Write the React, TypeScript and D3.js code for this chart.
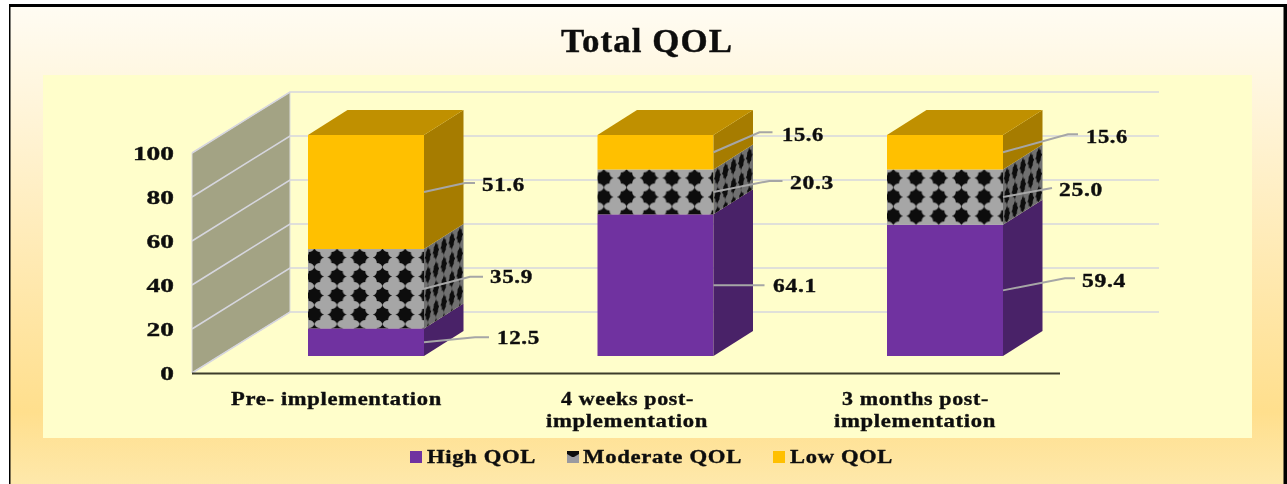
import React from "react";
import * as d3 from "d3";

const categories = ["Pre- implementation", "4 weeks post-\nimplementation", "3 months post-\nimplementation"];
const highQol = [12.5, 64.1, 59.4];
const moderateQol = [35.9, 20.3, 25.0];
const lowQol = [51.6, 15.6, 15.6];
const seriesNames = ["High QOL", "Moderate QOL", "Low QOL"];
const yTicks = [0, 20, 40, 60, 80, 100];

// layout only
const W = 1287, H = 484;
const barW = 116, barDX = 39.5, barDY = -25;
const wallDX = 98, wallDY = -61;
const barX = d3.scalePoint<number>().domain([0, 1, 2]).range([308, 887]);
const barY = d3.scaleLinear().domain([0, 100]).range([356, 135]);
const axisY = d3.scaleLinear().domain([0, 100]).range([373, 153]);
const font = "'Liberation Serif','Times New Roman',serif";

// leader knee / end offsets from the anchor on the bar's side, text box [left, right, centreY]
const leaders = [
  [[[41, -9], [51, -9], [482, 525, 185]], [[46, -12], [59, -12], [490, 533, 277]], [[51, -5], [65, -5], [497, 540, 338]]],
  [[[46, -20], [59, -20], [782, 824, 135]], [[56, -11], [69, -11], [790, 834, 183]], [[41, 0], [51, 0], [773, 817, 286]]],
  [[[65, -18], [75, -18], [1086, 1128, 137]], [[49, -9], [49, -9], [1059, 1103, 190]], [[62, -12], [72, -12], [1082, 1126, 281]]],
];
const catBoxes = [
  [[231, 442]],
  [[561, 694], [546, 708]],
  [[842, 989], [834, 996]],
];

const T = ({ x0, x1, cy, size, fill = "#111", children }: any) => (
  <text x={x0} y={cy + size * 0.32} fontFamily={font} fontWeight={700} fontSize={size} fill={fill}
    stroke={fill} strokeWidth={0.4} letterSpacing={size * 0.03}
    textLength={x1 - x0} lengthAdjust="spacingAndGlyphs">{children}</text>
);

const starPath = (cx: number, cy: number) => {
  const t = 9.6, s = 5.6, n = 1.4;
  return `M${cx - t},${cy} Q${cx - s},${cy - n} ${cx - s},${cy - s} Q${cx - n},${cy - s} ${cx},${cy - t} Q${cx + n},${cy - s} ${cx + s},${cy - s} Q${cx + s},${cy - n} ${cx + t},${cy} Q${cx + s},${cy + n} ${cx + s},${cy + s} Q${cx + n},${cy + s} ${cx},${cy + t} Q${cx - n},${cy + s} ${cx - s},${cy + s} Q${cx - s},${cy + n} ${cx - t},${cy}Z`;
};

export default function App() {
  const rows = categories.map((_, i) => ({ i, h: highQol[i], m: moderateQol[i], l: lowQol[i] }));
  const stacked = d3.stack<any>().keys(["h", "m", "l"])(rows);
  const front = ["#7030a0", "url(#front", "#ffc000"];
  const side = ["#4a2068", "url(#side", "#a67c00"];
  const values = [highQol, moderateQol, lowQol];
  const wall = `M192,${axisY(0)}L192,${axisY(100)}L${192 + wallDX},${axisY(100) + wallDY}L${192 + wallDX},${axisY(0) + wallDY}Z`;
  const legendX = [410, 567, 773];
  const legendText = [[427, 536], [583, 742], [790, 893]];

  return (
    <svg width={W} height={H} style={{ position: "absolute", left: 0, top: 0, background: "#fff" }}>
      <defs>
        <linearGradient id="bg" x1="0" y1="0" x2="0" y2="1">
          <stop offset="0" stopColor="#fffcf3" />
          <stop offset="0.84" stopColor="#ffdf8d" />
          <stop offset="1" stopColor="#fee9ad" />
        </linearGradient>
        {rows.map((_, i) => {
          const x0 = barX(i)!;
          const top = barY(highQol[i] + moderateQol[i]);
          return (
            <React.Fragment key={i}>
              <pattern id={`front${i}`} width={22.7} height={19} patternUnits="userSpaceOnUse"
                patternTransform={`translate(${x0 - 5},${top - 1})`}>
                <rect width={22.7} height={19} fill="#a6a6a6" />
                <path d={starPath(11.35, 9.5)} fill="#0c0c0c" />
              </pattern>
              <pattern id={`side${i}`} width={22.7} height={19} patternUnits="userSpaceOnUse"
                patternTransform={`translate(${x0 + barW},${top}) skewY(${Math.atan2(barDY, barDX) * 180 / Math.PI}) scale(0.35,1)`}>
                <rect width={22.7} height={19} fill="#707070" />
                <path d={starPath(11.35, 9.5)} fill="#0c0c0c" />
              </pattern>
            </React.Fragment>
          );
        })}
        <pattern id="legendPat" width={12} height={12} patternUnits="userSpaceOnUse" x={567} y={451}>
          <rect width={12} height={12} fill="#9a9aa0" />
          <path d="M0,0H12V3L7,6H5L0,3Z" fill="#111" />
        </pattern>
        <filter id="soft" x="0" y="0" width="100%" height="100%"><feGaussianBlur stdDeviation="0.45" /></filter>
      </defs>

      <g filter="url(#soft)">
        <rect x={9} y={5.5} width={1276} height={H} fill="url(#bg)" stroke="#000" strokeWidth={3} />
        <rect x={1285} y={4} width={2} height={H} fill="#000" />
        <rect x={43} y={75} width={1209} height={363} fill="#fffecb" />

        <T x0={561} x1={733} cy={41} size={33}>Total QOL</T>

        <path d={wall} fill="#a3a384" stroke="#dcdcdc" strokeWidth={1} />
        {yTicks.map(t => (
          <g key={t}>
            <path d={`M192,${axisY(t)}L${192 + wallDX},${axisY(t) + wallDY}L1159,${axisY(t) + wallDY}`}
              fill="none" stroke="#d6d6de" strokeWidth={1.6} />
            <text x={174} y={axisY(t) + 7} textAnchor="end" fontFamily={font} fontWeight={700} fontSize={19.5}
              fill="#111" stroke="#111" strokeWidth={0.4}
              textLength={String(t).length * 13.7} lengthAdjust="spacingAndGlyphs">{t}</text>
          </g>
        ))}
        <line x1={192} x2={1060} y1={373.5} y2={373.5} stroke="#3c3c2c" strokeWidth={2} />

        {rows.map((_, i) => {
          const x0 = barX(i)!;
          const x1 = x0 + barW;
          return (
            <g key={i}>
              {stacked.map((s, k) => {
                const y0 = barY(s[i][0]);
                const y1 = barY(s[i][1]);
                const f = k === 1 ? `${front[k]}${i})` : front[k];
                const sd = k === 1 ? `${side[k]}${i})` : side[k];
                return (
                  <g key={k}>
                    <rect x={x0} y={y1} width={barW} height={y0 - y1} fill={f} />
                    <path d={`M${x1},${y0}L${x1 + barDX},${y0 + barDY}L${x1 + barDX},${y1 + barDY}L${x1},${y1}Z`} fill={sd} />
                  </g>
                );
              })}
              <path d={`M${x0},${barY(100)}L${x0 + barDX},${barY(100) + barDY}L${x1 + barDX},${barY(100) + barDY}L${x1},${barY(100)}Z`} fill="#c09000" />
            </g>
          );
        })}

        {rows.map((_, i) => stacked.map((s, k) => {
          const ax = barX(i)! + barW;
          const ay = barY((s[i][0] + s[i][1]) / 2);
          const [knee, end, box] = leaders[i][2 - k];
          return (
            <g key={`${i}-${k}`}>
              <polyline points={`${ax},${ay} ${ax + knee[0]},${ay + knee[1]} ${ax + end[0]},${ay + end[1]}`}
                fill="none" stroke="#a6a6a6" strokeWidth={2} />
              <T x0={box[0]} x1={box[1]} cy={box[2]} size={19.5}>{d3.format(".1f")(values[k][i])}</T>
            </g>
          );
        }))}

        {categories.map((c, i) => c.split("\n").map((line, j) => (
          <T key={`${i}-${j}`} x0={catBoxes[i][j][0]} x1={catBoxes[i][j][1]} cy={399 + j * 22} size={19.5}>{line}</T>
        )))}

        {seriesNames.map((n, k) => (
          <g key={n}>
            <rect x={legendX[k]} y={451} width={12} height={12}
              fill={k === 0 ? "#7030a0" : k === 1 ? "url(#legendPat)" : "#ffc000"} />
            <T x0={legendText[k][0]} x1={legendText[k][1]} cy={457} size={19.5}>{n}</T>
          </g>
        ))}
      </g>
    </svg>
  );
}
